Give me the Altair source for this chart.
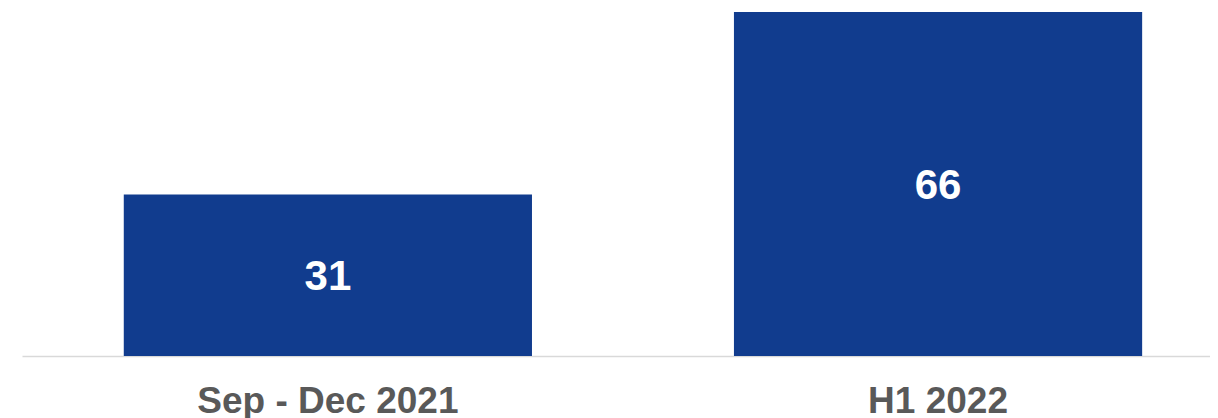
import altair as alt
import pandas as pd

categories = ["Sep - Dec 2021", "H1 2022"]
values = [31, 66]

df = pd.DataFrame({"period": categories, "value": values})

x = alt.X(
    "period:N",
    sort=categories,
    title=None,
    scale=alt.Scale(paddingInner=0.331, paddingOuter=0.139, align=0.6),
    axis=alt.Axis(
        labelAngle=0,
        labelFont="Liberation Sans",
        labelFontWeight="bold",
        labelFontSize=37,
        labelColor="#595959",
        labelBaseline="alphabetic",
        labelPadding=56,
        ticks=False,
        tickSize=0,
        domainColor="#d9d9d9",
        domainWidth=1.5,
        labelLimit=1000,
    ),
)
y = alt.Y("value:Q", title=None, scale=alt.Scale(domain=[0, 66], nice=False), axis=None)

bars = alt.Chart(df).mark_bar(color="#113c8e").encode(x=x, y=y)

labels = alt.Chart(df).mark_text(
    color="white",
    font="Liberation Sans",
    fontWeight="bold",
    fontSize=42,
    baseline="middle",
    align="center",
    dy=2,
).encode(
    x=alt.X("period:N", sort=categories),
    y=alt.Y("mid:Q"),
    text=alt.Text("value:Q"),
).transform_calculate(mid="datum.value / 2")

chart = (
    alt.layer(bars, labels)
    .properties(
        width=1188,
        height=344,
        autosize=alt.AutoSizeParams(type="none"),
        padding={"left": 14, "top": 4, "right": 0, "bottom": 62},
        view=alt.ViewBackground(stroke="transparent", strokeWidth=0),
    )
    .configure_view(strokeWidth=0, stroke="transparent")
    .configure(background="white")
)

chart.save("out.html", embed_options={"renderer": "svg", "actions": False})
